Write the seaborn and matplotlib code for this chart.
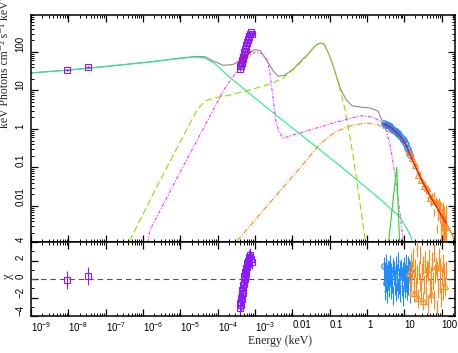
import numpy as np
import matplotlib
matplotlib.use("Agg")
import matplotlib.pyplot as plt
import seaborn as sns
from matplotlib.ticker import LogLocator, MultipleLocator

# ---- model curves: energy (keV) vs keV^2 photons cm^-2 s^-1 keV^-1 ----
total_energy = [1e-9, 1.1e-8, 1.31e-7, 1.55e-6, 9.9e-6, 2.5e-5, 4.6e-5, 7.1e-5, 1.41e-4, 2.6e-4,
                4.5e-4, 6.6e-4, 9.5e-4, 1.38e-3, 2.14e-3, 3.1e-3, 4.2e-3, 6.0e-3, 0.01, 0.0184,
                0.030, 0.0437, 0.056, 0.0716, 0.098, 0.133, 0.192, 0.279, 0.404, 0.66,
                1.22, 2.0, 2.8, 4.2, 6.5, 9.4, 12, 14.5, 22.4, 32, 50, 77, 100, 141, 230]
total_flux = [28.5, 34, 43, 55, 69, 76, 75, 60, 45, 47,
              64, 90, 115, 108, 58, 32, 23.5, 24.5, 34, 62,
              100, 152, 171, 161, 84, 36, 11.6, 5.7, 4.0, 3.7,
              3.5, 2.9, 1.36, 1.13, 0.79, 0.52, 0.33, 0.21, 0.083, 0.040, 0.0178, 0.0089, 0.0056, 0.0033, 0.0013]

pl_energy = [1e-9, 1.1e-8, 1.31e-7, 1.55e-6, 9.9e-6, 2.5e-5, 4.6e-5, 8.6e-5, 1.9e-4, 7.4e-4,
             5.4e-3, 0.0162, 0.192, 2.28, 7.8, 14.5, 23.7]
pl_flux = [28.5, 34, 43, 55, 68, 74, 70, 49, 24, 8.1,
           1.7, 0.74, 0.11, 0.015, 5.1e-3, 1.8e-3, 4e-4]

disk_energy = [3.3e-7, 2.9e-6, 2.8e-5, 4.6e-5, 8.6e-5, 2.16e-4, 7.4e-4, 2.6e-3, 5.75e-3, 0.012,
               0.0222, 0.0363, 0.056, 0.0716, 0.098, 0.133, 0.192, 0.262, 0.404, 0.585, 0.90, 1.02]
disk_flux = [7.2e-4, 0.047, 3.1, 5.3, 6.4, 7.6, 10.3, 14.8, 21, 38,
             70, 127, 168, 158, 84, 36, 10.3, 3.1, 0.285, 0.026, 1.3e-3, 5.4e-4]

bb_energy = [1.21e-6, 1.55e-6, 9.9e-6, 7.6e-5, 1.58e-4, 4.0e-4, 6.6e-4, 1.0e-3, 1.55e-3, 2.14e-3,
             2.57e-3, 3.1e-3, 3.7e-3, 4.5e-3, 5.75e-3, 0.0162, 0.056, 0.192, 0.66, 1.39,
             2.28, 3.1, 4.2, 5.7, 7.8, 10]
bb_flux = [7.2e-4, 2.4e-3, 0.076, 3.1, 11.6, 41, 79, 100, 90, 62,
           25, 5.7, 1.5, 0.79, 0.58, 0.79, 1.13, 1.6, 2.2, 2.05,
           1.6, 1.13, 0.38, 0.064, 5.9e-3, 7.2e-4]

comp_energy = [2.6e-4, 3.16e-4, 1.38e-3, 6.5e-3, 0.0162, 0.030, 0.056, 0.141, 0.356, 0.90,
               2.0, 3.7, 7.8, 12, 14.5, 22.4, 32, 50, 77, 100, 141, 230]
comp_flux = [7.2e-4, 1.16e-3, 6.2e-3, 0.035, 0.097, 0.20, 0.41, 0.84, 1.2, 1.43,
             1.3, 0.85, 0.63, 0.32, 0.205, 0.082, 0.040, 0.0177, 0.0088, 0.0055, 0.0032, 0.0012]

line_energy = [3.7, 6.3, 7.6]
line_flux = [9e-4, 0.10, 9e-4]

fit_x_energy = [2.8, 4.2, 6.5, 9.4, 12, 14.5, 22.4, 32, 50, 77, 100, 135]
fit_x_flux = [1.36, 1.13, 0.79, 0.52, 0.33, 0.21, 0.083, 0.040, 0.0178, 0.0089, 0.0056, 0.0036]
fit_opt_energy = [4.0e-4, 5.0e-4, 6.0e-4, 7.0e-4, 7.9e-4]
fit_opt_flux = [60, 70, 82, 94, 101]

# ---- data ----
radio_energy = [9.2e-9, 3.4e-8]
radio_flux = [34.5, 41]
radio_ferr = [2.5, 3.0]
radio_chi = [-0.1, 0.35]

opt_energy = [4.0e-4, 4.1e-4, 4.2e-4, 4.3e-4, 4.4e-4, 4.5e-4, 4.6e-4, 4.7e-4, 4.8e-4, 4.9e-4,
              5.0e-4, 5.1e-4, 5.2e-4, 5.35e-4, 5.5e-4, 5.65e-4, 5.8e-4, 5.95e-4, 6.1e-4, 6.3e-4,
              6.5e-4, 6.7e-4, 6.9e-4, 7.1e-4, 7.4e-4, 7.8e-4, 8.2e-4]
opt_flux = [37, 42, 44, 50, 53, 56, 63, 66, 74, 76,
            84, 88, 97, 103, 117, 124, 140, 148, 168, 180,
            205, 222, 250, 262, 290, 320, 300]
opt_chi = [-3.1, -2.6, -2.8, -2.0, -2.2, -1.6, -1.2, -1.5, -0.7, -1.0,
           -0.3, -0.5, 0.3, 0.0, 0.8, 0.5, 1.2, 0.9, 1.7, 1.3,
           2.0, 1.6, 2.4, 2.1, 2.6, 2.2, 1.8]

soft_energy = [2.80, 2.90, 3.00, 3.10, 3.20, 3.30, 3.40, 3.52, 3.64, 3.76,
               3.88, 4.00, 4.13, 4.27, 4.41, 4.56, 4.71, 4.87, 5.03, 5.20,
               5.37, 5.55, 5.73, 5.92, 6.12, 6.32, 6.53, 6.75, 6.97, 7.20,
               7.44, 7.69, 7.95, 8.21, 8.48, 8.76, 9.05, 9.35, 9.66, 9.98,
               10.3, 10.65, 11.0, 11.4, 11.8, 12.2, 12.6, 13.0, 13.5, 14.0, 14.5]
soft_flux = [1.42, 1.35, 1.27, 1.33, 1.35, 1.25, 1.27, 1.17, 1.25, 1.18,
             1.20, 1.125, 1.195, 1.12, 1.047, 1.08, 1.013, 1.04, 0.92, 0.96,
             0.95, 0.88, 0.88, 0.817, 0.867, 0.80, 0.80, 0.734, 0.773, 0.692,
             0.682, 0.624, 0.647, 0.629, 0.571, 0.569, 0.511, 0.536, 0.515, 0.465,
             0.426, 0.42, 0.409, 0.36, 0.328, 0.325, 0.308, 0.266, 0.258, 0.217, 0.215]
soft_chi = [1.4, 0.3, -1.3, 0.8, 1.7, -0.4, 0.5, -1.6, 1.1, -0.2,
            0.9, -0.9, 1.6, 0.2, -1.2, 0.7, -0.5, 1.3, -1.8, 0.4,
            1.0, -0.7, 0.1, -1.4, 1.5, -0.3, 0.6, -1.1, 1.9, -0.6,
            0.2, -1.5, 0.9, 1.2, -0.8, 0.3, -1.9, 0.8, 1.4, -0.1,
            -1.0, 0.6, 1.7, -0.4, -1.3, 0.5, 1.5, -0.7, 1.2, -1.6, 0.9]

hard_energy = [13.6, 14.2, 14.9, 15.6, 16.3, 17.1, 17.9, 18.7, 19.6, 20.5,
               21.5, 22.5, 23.5, 24.6, 25.8, 27.0, 28.3, 29.6, 31.0, 32.5,
               34.0, 35.6, 37.3, 39.0, 40.9, 42.8, 44.8, 46.9, 49.1, 51.4,
               53.8, 56.3, 59.0, 61.8, 64.7, 67.7, 70.9, 74.2, 77.7, 81.4,
               85.2, 89.2, 93.4, 97.8, 102, 107, 112, 118, 124, 130]
hard_flux = [0.250, 0.208, 0.215, 0.175, 0.171, 0.167, 0.122, 0.124, 0.119, 0.0944,
             0.113, 0.0855, 0.0634, 0.074, 0.0605, 0.0691, 0.046, 0.0497, 0.0334, 0.0442,
             0.0336, 0.0396, 0.0312, 0.0224, 0.029, 0.016, 0.0241, 0.0257, 0.0162, 0.0181,
             0.0120, 0.0192, 0.0132, 0.0191, 0.00687, 0.0122, 0.0131, 0.00259, 0.0106, 0.00612,
             0.0119, 0.00598, 0.00857, 0.00257, 0.00578, 0.0077, 0.00279, 0.00547, 0.00293, 0.00529]
hard_relerr = [0.05, 0.05, 0.05, 0.055, 0.055, 0.06, 0.06, 0.065, 0.065, 0.07,
               0.07, 0.075, 0.075, 0.08, 0.08, 0.085, 0.085, 0.09, 0.09, 0.095,
               0.10, 0.10, 0.11, 0.11, 0.12, 0.12, 0.13, 0.13, 0.14, 0.14,
               0.15, 0.16, 0.17, 0.18, 0.19, 0.20, 0.22, 0.25, 0.30, 0.33,
               0.36, 0.40, 0.45, 0.50, 0.55, 0.60, 0.70, 0.80, 0.90, 0.95]
hard_chi = [0.6, -1.1, 1.8, -0.4, 0.9, 2.3, -1.5, 0.2, 1.2, -0.8,
            3.4, 0.5, -2.1, 1.0, -0.3, 2.6, -1.2, 0.7, -2.4, 1.5,
            -0.6, 2.0, 0.3, -1.8, 1.1, -2.7, 0.8, 2.2, -0.9, 0.4,
            -1.6, 1.9, -0.2, 2.8, -2.2, 0.6, 1.4, -3.3, 0.9, -1.0,
            2.4, -0.5, 1.3, -2.0, 0.2, 1.7, -1.3, 0.7, -0.8, 1.0]

x_ticks = [1e-9, 1e-8, 1e-7, 1e-6, 1e-5, 1e-4, 1e-3, 0.01, 0.1, 1, 10, 100]
x_labels = ["10$^{-9}$", "10$^{-8}$", "10$^{-7}$", "10$^{-6}$", "10$^{-5}$", "10$^{-4}$",
            "10$^{-3}$", "0.01", "0.1", "1", "10", "100"]
y_ticks = [0.01, 0.1, 1, 10, 100]
y_labels = ["0.01", "0.1", "1", "10", "100"]
chi_ticks = [-4, -2, 0, 2, 4]
chi_labels = ["\u22124", "\u22122", "0", "2", "4"]

PURPLE = "#8a1aff"
BLUE = "#1e8cff"
ORANGE = "#ff8a1a"

sns.set_theme(style="ticks")
plt.rcParams["font.family"] = ["Liberation Sans", "DejaVu Sans"]
plt.rcParams["mathtext.fontset"] = "custom"
plt.rcParams["mathtext.rm"] = "Liberation Sans"
plt.rcParams["mathtext.it"] = "Liberation Sans:italic"
plt.rcParams["axes.linewidth"] = 1.1
serif = ["Liberation Serif", "DejaVu Serif"]

W, H = 458, 353
fig = plt.figure(figsize=(W / 100, H / 100), dpi=100)
ax = fig.add_axes([31 / W, (H - 242) / H, 424 / W, 227 / H])
axr = fig.add_axes([31 / W, (H - 316) / H, 424 / W, 74 / H])


def model_line(axis, x, y, color, ls="-", lw=0.8, z=2):
    sns.lineplot(x=x, y=y, ax=axis, color=color, linestyle=ls, linewidth=lw,
                 sort=False, estimator=None, legend=False, zorder=z)


def data_points(axis, x, y, xerr, yerr, color, marker, ms, every):
    # error crosses for every bin, open markers on a subset like the original plot
    axis.errorbar(x, y, xerr=xerr, yerr=yerr, fmt="none", ecolor=color, elinewidth=0.8, zorder=4)
    axis.plot(x[::every], y[::every], linestyle="none", marker=marker, ms=ms, mfc="none",
              mec=color, mew=0.8, zorder=4)


for a in (ax, axr):
    a.set_xscale("log")
ax.set_yscale("log")

# model components
model_line(ax, total_energy, total_flux, "#8c8c8c")
model_line(ax, pl_energy, pl_flux, "#22ee88")
model_line(ax, disk_energy, disk_flux, "#8ee000", ls=(0, (6, 3)))
model_line(ax, bb_energy, bb_flux, "#ff33ff", ls=(0, (3, 1.5, 1, 1.5)))
model_line(ax, comp_energy, comp_flux, ORANGE, ls=(0, (5, 1.5, 1, 1.5)))
model_line(ax, line_energy, line_flux, "#22dd22")

soft_xerr = [e * 0.017 for e in soft_energy]
hard_xerr = [e * 0.023 for e in hard_energy]
opt_xerr = [e * 0.025 for e in opt_energy]
radio_xerr = [e * 0.1 for e in radio_energy]

# data with error bars
data_points(ax, radio_energy, radio_flux, radio_xerr, radio_ferr, PURPLE, "s", 4.5, 1)
data_points(ax, opt_energy, opt_flux, opt_xerr, [f * 0.12 for f in opt_flux], PURPLE, "s", 4, 1)
data_points(ax, soft_energy, soft_flux, soft_xerr, [f * 0.045 for f in soft_flux], BLUE, "o", 4, 2)
data_points(ax, hard_energy, hard_flux, hard_xerr, [f * r for f, r in zip(hard_flux, hard_relerr)],
            ORANGE, "^", 4, 4)

model_line(ax, fit_x_energy, fit_x_flux, "#ff0000", z=5)
model_line(ax, fit_opt_energy, fit_opt_flux, "#ff0000", z=5)

# residuals
axr.axhline(0, color="#555555", ls=(0, (5, 3.5)), lw=0.8, zorder=1)
data_points(axr, radio_energy, radio_chi, None, 1.0, PURPLE, "s", 4.5, 1)
data_points(axr, opt_energy, opt_chi, opt_xerr, 0.7, PURPLE, "s", 4, 1)
data_points(axr, soft_energy, soft_chi, soft_xerr, 1.0, BLUE, "o", 4, 5)
data_points(axr, hard_energy, hard_chi, hard_xerr, 1.0, ORANGE, "^", 4, 6)

# axes styling
for a in (ax, axr):
    a.set_xlim(1e-9, 230)
    a.xaxis.set_minor_locator(LogLocator(base=10, subs=np.arange(2, 10), numticks=30))
    a.tick_params(which="both", direction="in", top=True, right=True, colors="black")
    a.tick_params(which="major", length=5, width=0.9)
    a.tick_params(which="minor", length=2.5, width=0.7)
    a.set_xlabel("")
    a.set_ylabel("")
    for s in a.spines.values():
        s.set_color("black")

ax.set_ylim(1.16e-3, 910)
ax.set_xticks(x_ticks)
ax.tick_params(labelbottom=False)
ax.set_yticks(y_ticks, labels=y_labels)
ax.yaxis.set_minor_locator(LogLocator(base=10, subs=np.arange(2, 10), numticks=30))
ax.tick_params(axis="y", pad=4, labelsize=7)

axr.set_ylim(-4, 4)
axr.set_xticks(x_ticks, labels=x_labels)
axr.set_yticks(chi_ticks, labels=chi_labels)
axr.yaxis.set_minor_locator(MultipleLocator(1))
axr.tick_params(axis="x", pad=3, labelsize=7)
axr.tick_params(axis="y", pad=4, labelsize=7)

for t in axr.get_xticklabels():
    t.set_ha("left")
for a in (ax, axr):
    for t in a.get_yticklabels():
        t.set_rotation(90)
        t.set_va("bottom")
        t.set_ha("right")

fig.text(248 / W, 1 - 341 / H, "Energy (keV)", family=serif, fontsize=8.5, ha="left", va="center")
fig.text(5 / W, 1 - 128 / H, "keV Photons cm\u207b\u00b2 s\u207b\u00b9 keV\u207b\u00b9", family=serif,
         fontsize=8.5, rotation=90, ha="center", va="bottom")
fig.text(8 / W, 1 - 279 / H, "\u03c7", family=serif, fontsize=9, rotation=90, ha="center", va="bottom")

fig.savefig("out.png", dpi=100)
